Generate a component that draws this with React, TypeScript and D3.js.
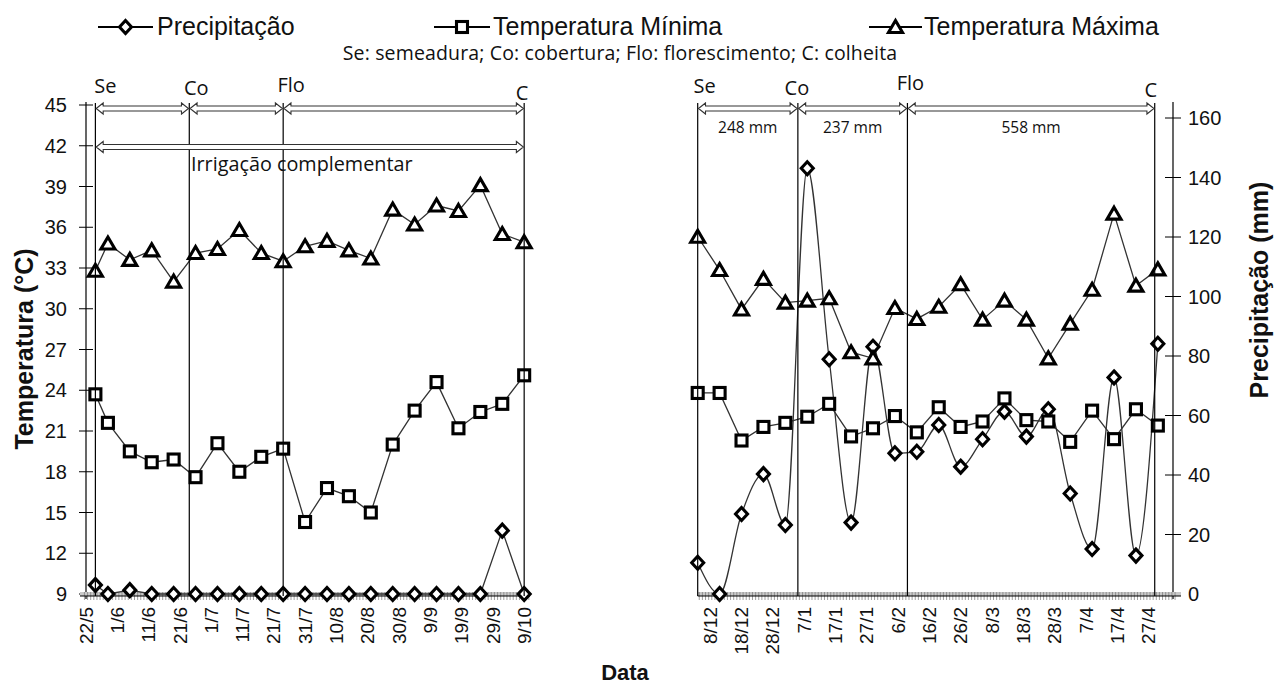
import * as d3 from "d3";

// ---- dados ----
// painel esquerdo: maio–outubro
const leftDates = ["25/5", "29/5", "5/6", "12/6", "19/6", "26/6", "3/7", "10/7", "17/7", "24/7", "31/7",
  "7/8", "14/8", "21/8", "28/8", "4/9", "11/9", "18/9", "25/9", "2/10", "9/10"];
const leftPrecip = [3, 0, 1.3, 0, 0, 0, 0, 0, 0, 0, 0, 0, 0, 0, 0, 0, 0, 0, 0, 21.3, 0];
const leftTmin = [23.7, 21.6, 19.5, 18.7, 18.9, 17.6, 20.1, 18.0, 19.1, 19.7, 14.3,
  16.8, 16.2, 15.0, 20.0, 22.5, 24.6, 21.2, 22.4, 23.0, 25.1];
const leftTmax = [32.8, 34.8, 33.6, 34.3, 32.0, 34.1, 34.4, 35.8, 34.1, 33.5, 34.6,
  35.0, 34.3, 33.7, 37.3, 36.2, 37.6, 37.2, 39.1, 35.5, 34.9];
const leftTicks = ["22/5", "1/6", "11/6", "21/6", "1/7", "11/7", "21/7", "31/7", "10/8", "20/8",
  "30/8", "9/9", "19/9", "29/9", "9/10"];
const leftDomain = ["22/5", "10/10"];
const leftStages = [
  { label: "Se", date: "25/5" },
  { label: "Co", date: "24/6" },
  { label: "Flo", date: "24/7" },
  { label: "C", date: "9/10" },
];

// painel direito: dezembro–abril
const rightDates = ["4/12", "11/12", "18/12", "25/12", "1/1", "8/1", "15/1", "22/1", "29/1", "5/2", "12/2",
  "19/2", "26/2", "5/3", "12/3", "19/3", "26/3", "2/4", "9/4", "16/4", "23/4", "30/4"];
const rightPrecip = [10.5, 0, 26.9, 40.3, 23.2, 143.1, 78.9, 24.0, 83.1, 47.3, 47.8,
  56.8, 42.8, 52.0, 61.3, 52.9, 62.1, 33.8, 15.1, 72.8, 12.9, 84.1];
const rightTmin = [23.8, 23.8, 20.3, 21.3, 21.6, 22.05, 23.0, 20.6, 21.2, 22.1, 20.9,
  22.75, 21.3, 21.7, 23.4, 21.8, 21.7, 20.2, 22.5, 20.4, 22.6, 21.4];
const rightTmax = [35.3, 32.85, 29.95, 32.2, 30.45, 30.6, 30.77, 26.8, 26.35, 30.05, 29.25,
  30.15, 31.8, 29.2, 30.6, 29.2, 26.35, 28.9, 31.4, 37.0, 31.7, 32.9];
const rightTicks = ["8/12", "18/12", "28/12", "7/1", "17/1", "27/1", "6/2", "16/2", "26/2", "8/3",
  "18/3", "28/3", "7/4", "17/4", "27/4"];
const rightDomain = ["4/12", "5/5"];
const rightStages = [
  { label: "Se", date: "4/12" },
  { label: "Co", date: "5/1" },
  { label: "Flo", date: "9/2" },
  { label: "C", date: "29/4" },
];
const rightPeriodTotals = ["248 mm", "237 mm", "558 mm"];

const tempTicks = d3.range(9, 46, 3);
const precipTicks = d3.range(0, 161, 20);

const legendItems = [
  { name: "Precipitação", marker: "diamond" },
  { name: "Temperatura Mínima", marker: "square" },
  { name: "Temperatura Máxima", marker: "triangle" },
];

// ---- layout ----
const W = 1274;
const H = 684;
const BASE = 594;
const ARIAL = "'Liberation Sans', Arial, sans-serif";
const CALI = "'Open Sans', 'Noto Sans', sans-serif";
const INK = "#111";
const LINE = "#333";

const parseL = (s: string) => {
  const [d, m] = s.split("/").map(Number);
  return new Date(2010, m - 1, d, 12);
};
const parseR = (s: string) => {
  const [d, m] = s.split("/").map(Number);
  return new Date(m >= 10 ? 2010 : 2011, m - 1, d, 12);
};

const yTemp = d3.scaleLinear().domain([9, 45]).range([BASE, 105]);
const yPrec = d3.scaleLinear().domain([0, 160]).range([BASE, 118]);

const xL = d3.scaleTime().domain(leftDomain.map(parseL)).range([86, 527.3]);
const xR = d3.scaleTime().domain(rightDomain.map(parseR)).range([697.7, 1173.5]);

function Marker({ type, x, y }: { type: string; x: number; y: number }) {
  const common = { fill: "#fff", stroke: "#000", strokeWidth: 3.1, strokeLinejoin: "miter" as const };
  if (type === "diamond")
    return <path d={`M${x},${y - 6.5}L${x + 6},${y}L${x},${y + 6.5}L${x - 6},${y}Z`} {...common} />;
  if (type === "square") return <rect x={x - 5.5} y={y - 5.5} width={11} height={11} {...common} />;
  return <path d={`M${x},${y - 6.5}L${x + 7},${y + 5.5}L${x - 7},${y + 5.5}Z`} {...common} />;
}

// seta dupla vazada
function blockArrow(x1: number, x2: number, cy: number) {
  const hl = 7, hh = 5.5, sh = 2.5;
  return `M${x1},${cy}L${x1 + hl},${cy - hh}L${x1 + hl},${cy - sh}L${x2 - hl},${cy - sh}L${x2 - hl},${cy - hh}` +
    `L${x2},${cy}L${x2 - hl},${cy + hh}L${x2 - hl},${cy + sh}L${x1 + hl},${cy + sh}L${x1 + hl},${cy + hh}Z`;
}

type PanelProps = {
  x: d3.ScaleTime<number, number>;
  parse: (s: string) => Date;
  dates: string[];
  precip: number[];
  tmin: number[];
  tmax: number[];
  ticks: string[];
  stages: { label: string; date: string }[];
  labelNudge: { dx: number; y: number }[];
  smoothPrecip: boolean;
  baseFrom: number;
  baseTo: number;
};

function Panel(p: PanelProps) {
  const xs = p.dates.map((d) => p.x(p.parse(d)));
  const lineTemp = d3.line<number>().x((_, i) => xs[i]).y((v) => yTemp(v));
  const linePrec = d3.line<number>().x((_, i) => xs[i]).y((v) => yPrec(v))
    .curve(p.smoothPrecip ? d3.curveMonotoneX : d3.curveLinear);
  const [d0, d1] = p.x.domain();
  const days = d3.timeDay.range(d3.timeDay.floor(d0), d3.timeDay.offset(d1, 1));
  const stageX = p.stages.map((s) => p.x(p.parse(s.date)));
  return (
    <g>
      {/* eixo x */}
      <rect x={p.baseFrom} y={592} width={p.baseTo - p.baseFrom} height={4} fill="#c9c9c9" />
      {days.map((d, i) => {
        const xx = p.x(d);
        if (xx < p.baseFrom || xx > p.baseTo) return null;
        return <line key={i} x1={xx} x2={xx} y1={592} y2={600} stroke="#777" strokeWidth={0.7} />;
      })}
      <line x1={p.baseFrom} x2={p.baseTo} y1={596} y2={596} stroke="#000" strokeWidth={1.2} />
      {p.ticks.map((t) => {
        const xx = p.x(p.parse(t));
        return (
          <text key={t} transform={`translate(${xx},607) rotate(-90)`} textAnchor="end" dy="0.35em"
            fontFamily={ARIAL} fontSize={19} fill={INK}>{t}</text>
        );
      })}
      {/* séries */}
      <path d={linePrec(p.precip) || ""} fill="none" stroke={LINE} strokeWidth={1.3} />
      <path d={lineTemp(p.tmin) || ""} fill="none" stroke={LINE} strokeWidth={1.3} />
      <path d={lineTemp(p.tmax) || ""} fill="none" stroke={LINE} strokeWidth={1.3} />
      {p.precip.map((v, i) => <Marker key={"p" + i} type="diamond" x={xs[i]} y={yPrec(v)} />)}
      {p.tmin.map((v, i) => <Marker key={"n" + i} type="square" x={xs[i]} y={yTemp(v)} />)}
      {p.tmax.map((v, i) => <Marker key={"x" + i} type="triangle" x={xs[i]} y={yTemp(v)} />)}
      {/* fases */}
      {stageX.map((sx, i) => (
        <line key={"s" + i} x1={sx} x2={sx} y1={103} y2={596} stroke="#000" strokeWidth={1.2} />
      ))}
      {p.stages.map((s, i) => (
        <text key={"l" + i} x={stageX[i] + p.labelNudge[i].dx} y={p.labelNudge[i].y} textAnchor="middle"
          fontFamily={CALI} fontSize={20} fill={INK}>{s.label}</text>
      ))}
      {stageX.slice(0, -1).map((sx, i) => (
        <path key={"a" + i} d={blockArrow(sx + 0.8, stageX[i + 1] - 0.8, 108.5)} fill="#fff" stroke="#333"
          strokeWidth={1.1} />
      ))}
    </g>
  );
}

export default function App() {
  const lStageX = leftStages.map((s) => xL(parseL(s.date)));
  const rStageX = rightStages.map((s) => xR(parseR(s.date)));
  const legendX = [{ x1: 98, x2: 153, tx: 157 }, { x1: 434, x2: 490, tx: 493 }, { x1: 869, x2: 922, tx: 924 }];
  return (
    <svg width={W} height={H} viewBox={`0 0 ${W} ${H}`}
      style={{ position: "absolute", left: 0, top: 0, background: "#fff" }}>
      <rect width={W} height={H} fill="#fff" />
      {/* legenda */}
      {legendItems.map((it, i) => {
        const lx = legendX[i];
        return (
          <g key={it.name}>
            <line x1={lx.x1} x2={lx.x2} y1={27} y2={27} stroke="#000" strokeWidth={1.8} />
            <Marker type={it.marker} x={(lx.x1 + lx.x2) / 2} y={27} />
            <text x={lx.tx} y={34.5} fontFamily={ARIAL} fontSize={25} fill={INK}>{it.name}</text>
          </g>
        );
      })}
      <text x={620} y={60} textAnchor="middle" fontFamily={CALI} fontSize={19.5} letterSpacing={0.15} fill={INK}>
        Se: semeadura; Co: cobertura; Flo: florescimento; C: colheita
      </text>

      {/* eixo y esquerdo */}
      <line x1={86} x2={86} y1={102} y2={599} stroke="#000" strokeWidth={1.2} />
      {tempTicks.map((t) => (
        <g key={t}>
          <line x1={79} x2={93} y1={yTemp(t)} y2={yTemp(t)} stroke="#000" strokeWidth={1} />
          <text x={67} y={yTemp(t)} dy="0.36em" textAnchor="end" fontFamily={ARIAL} fontSize={20} fill={INK}>{t}</text>
        </g>
      ))}
      <text transform="translate(33,349) rotate(-90)" textAnchor="middle" fontFamily={ARIAL} fontSize={25}
        fontWeight="bold" fill={INK}>Temperatura (°C)</text>

      {/* eixo y direito */}
      <line x1={1173} x2={1173} y1={102} y2={599} stroke="#000" strokeWidth={1.2} />
      {precipTicks.map((t) => (
        <g key={t}>
          <line x1={1165} x2={1181} y1={yPrec(t)} y2={yPrec(t)} stroke="#000" strokeWidth={1} />
          <text x={1188} y={yPrec(t)} dy="0.36em" fontFamily={ARIAL} fontSize={20} fill={INK}>{t}</text>
        </g>
      ))}
      <text transform="translate(1268,290) rotate(-90)" textAnchor="middle" fontFamily={ARIAL} fontSize={25}
        fontWeight="bold" fill={INK}>Precipitação (mm)</text>

      <Panel x={xL} parse={parseL} dates={leftDates} precip={leftPrecip} tmin={leftTmin} tmax={leftTmax}
        ticks={leftTicks} stages={leftStages} smoothPrecip={false} baseFrom={80} baseTo={530}
        labelNudge={[{ dx: 10, y: 93 }, { dx: 7, y: 95 }, { dx: 8, y: 92 }, { dx: -2, y: 100 }]} />
      <Panel x={xR} parse={parseR} dates={rightDates} precip={rightPrecip} tmin={rightTmin} tmax={rightTmax}
        ticks={rightTicks} stages={rightStages} smoothPrecip={true} baseFrom={697.7} baseTo={1181}
        labelNudge={[{ dx: 7, y: 93 }, { dx: -1, y: 95 }, { dx: 3, y: 90 }, { dx: -4, y: 97 }]} />

      {/* irrigação complementar */}
      <path d={blockArrow(lStageX[0] + 0.8, lStageX[3] - 0.8, 147)} fill="#fff" stroke="#333" strokeWidth={1.1} />
      <text x={(lStageX[0] + lStageX[3]) / 2 - 8} y={171} textAnchor="middle" fontFamily={CALI} fontSize={19.8}
        fill={INK}>Irrigação complementar</text>

      {/* totais de chuva por fase */}
      {rightPeriodTotals.map((t, i) => (
        <text key={t} x={(rStageX[i] + rStageX[i + 1]) / 2} y={132.5} textAnchor="middle" fontFamily={CALI}
          fontSize={15.5} fill={INK}>{t}</text>
      ))}

      <text x={625} y={680} textAnchor="middle" fontFamily={ARIAL} fontSize={22} fontWeight="bold" fill={INK}>Data</text>
    </svg>
  );
}
